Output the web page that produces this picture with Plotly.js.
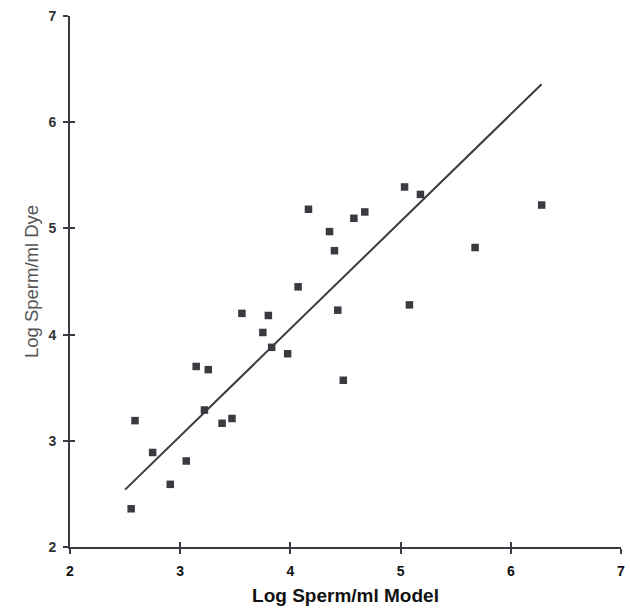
<!DOCTYPE html>
<html>
<head>
<meta charset="utf-8">
<script src="https://cdn.plot.ly/plotly-3.0.1.min.js"></script>
<style>html,body{margin:0;padding:0;background:#fff;}#chart{width:630px;height:612px;}</style>
</head>
<body>
<div id="chart"></div>
<script>
// Observed points: Log Sperm/ml (Model) vs Log Sperm/ml (Dye)
var modelX = [2.555, 2.59, 2.75, 2.91, 3.055, 3.145, 3.255, 3.22, 3.38, 3.47,
              3.56, 3.75, 3.80, 3.83, 3.975, 4.07, 4.43, 4.48, 4.164, 4.576,
              4.355, 4.40, 4.675, 5.036, 5.18, 6.28, 5.676, 5.08];
var dyeY   = [2.36, 3.19, 2.89, 2.59, 2.81, 3.70, 3.67, 3.29, 3.165, 3.21,
              4.20, 4.02, 4.18, 3.88, 3.82, 4.45, 4.23, 3.57, 5.18, 5.095,
              4.97, 4.79, 5.155, 5.39, 5.32, 5.22, 4.82, 4.28];
// Regression line end points
var fitX = [2.5, 6.279];
var fitY = [2.54, 6.357];
var tickVals = [2, 3, 4, 5, 6, 7];
var tickText = ["2", "3", "4", "5", "6", "7"];

var ink = '#3a3a40';
var traces = [
  {x: fitX, y: fitY, mode: 'lines', line: {color: ink, width: 2}, hoverinfo: 'skip', showlegend: false},
  {x: modelX, y: dyeY, mode: 'markers', marker: {symbol: 'square', size: 7.5, color: ink}, showlegend: false},
  {x: [2], y: [2], xaxis: 'x2', yaxis: 'y2', mode: 'markers', marker: {opacity: 0}, hoverinfo: 'skip', showlegend: false}
];
var axBase = {range: [2, 7], tickvals: tickVals, ticktext: tickText, showgrid: false, zeroline: false,
              showline: true, linecolor: ink, linewidth: 2, ticks: 'outside', ticklen: 5, tickwidth: 2, tickcolor: ink};
var layout = {
  width: 630, height: 612,
  margin: {l: 70, r: 9, t: 16, b: 65},
  paper_bgcolor: '#ffffff', plot_bgcolor: '#ffffff',
  font: {family: 'Liberation Sans, Arial, sans-serif', color: '#111'},
  xaxis: Object.assign({}, axBase, {
    tickfont: {family: 'Liberation Sans, Arial, sans-serif', size: 14, color: '#111', weight: 'bold'},
    ticklabelstandoff: 5,
    title: {text: 'Log Sperm/ml Model', font: {family: 'Liberation Sans, Arial, sans-serif', size: 19, color: '#111', weight: 'bold'}, standoff: 11}
  }),
  yaxis: Object.assign({}, axBase, {
    tickfont: {family: 'Liberation Sans, Arial, sans-serif', size: 14, color: '#333', weight: 'bold'},
    ticklabelstandoff: 4,
    title: {text: 'Log Sperm/ml Dye', font: {family: 'Liberation Sans, Arial, sans-serif', size: 18.5, color: '#555'}, standoff: 5}
  }),
  xaxis2: {range: [2, 7], overlaying: 'x', tickvals: tickVals, showticklabels: false, showgrid: false, zeroline: false,
           showline: false, ticks: 'inside', ticklen: 5, tickwidth: 2, tickcolor: ink, anchor: 'y2', side: 'bottom'},
  yaxis2: {range: [2, 7], overlaying: 'y', tickvals: tickVals, showticklabels: false, showgrid: false, zeroline: false,
           showline: false, ticks: 'inside', ticklen: 5, tickwidth: 2, tickcolor: ink, anchor: 'x2', side: 'left'}
};
Plotly.newPlot('chart', traces, layout, {displayModeBar: false, staticPlot: true});
</script>
</body>
</html>
